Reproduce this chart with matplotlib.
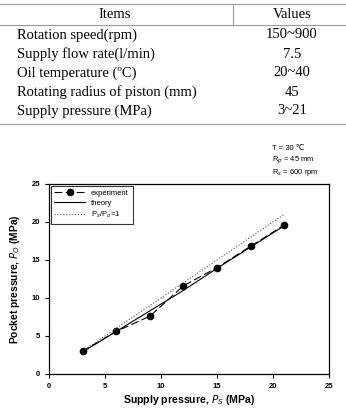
import matplotlib
matplotlib.use("Agg")
import matplotlib.pyplot as plt

# table data
items = ["Rotation speed(rpm)", "Supply flow rate(l/min)", "Oil temperature (\u00baC)",
         "Rotating radius of piston (mm)", "Supply pressure (MPa)"]
values = ["150~900", "7.5", "20~40", "45", "3~21"]

# chart data
ps = [3, 6, 9, 12, 15, 18, 21]
po_exp = [3.0, 5.6, 7.6, 11.6, 14.0, 16.8, 19.6]
po_theory = [2.9, 5.6, 8.3, 11.0, 13.9, 16.7, 19.5]
ideal_x = [3, 21]
ideal_y = [3, 21]

W, H = 346, 408
fig = plt.figure(figsize=(W / 100, H / 100), dpi=100)

def fx(px):
    return px / W

def fy(py):
    return 1 - py / H

# ---- table ----
serif = "Liberation Serif"
line_c = "#9a9a9a"
for yy in [4, 24.5, 123.5]:
    fig.add_artist(plt.Line2D([0, 1], [fy(yy), fy(yy)], color=line_c, lw=0.8))
fig.add_artist(plt.Line2D([fx(233), fx(233)], [fy(4), fy(24.5)], color=line_c, lw=0.8))
fig.text(fx(115), fy(15), "Items", family=serif, fontsize=10.5, ha="center", va="center")
fig.text(fx(292), fy(15), "Values", family=serif, fontsize=10.5, ha="center", va="center")
row_y = [35, 54, 73, 92.5, 111]
for name, val, yy in zip(items, values, row_y):
    fig.text(fx(17), fy(yy), name, family=serif, fontsize=10.5, ha="left", va="center")
    fig.text(fx(292), fy(yy), val, family=serif, fontsize=10.5, ha="center", va="center")

# ---- chart ----
sans = ["Liberation Sans", "DejaVu Sans"]
ax = fig.add_axes([fx(49), fy(374), fx(329) - fx(49), fy(184) - fy(374)])
ax.plot(ps, po_exp, color="black", lw=0.8, dashes=(7, 3), marker="o", ms=4.5,
        label="experiment")
ax.plot(ps, po_theory, color="black", lw=0.8, label="theory")
ax.plot(ideal_x, ideal_y, color="#555555", lw=0.8, ls=":", label="P$_s$/P$_o$=1")

ax.set_xlim(0, 25)
ax.set_ylim(0, 25)
ax.set_xticks([0, 5, 10, 15, 20, 25])
ax.set_yticks([0, 5, 10, 15, 20, 25])
ax.tick_params(direction="out", length=3, width=0.8, labelsize=5.5, pad=3.5)
for lab in ax.get_xticklabels() + ax.get_yticklabels():
    lab.set_family(sans)
    lab.set_fontweight("bold")
for s in ax.spines.values():
    s.set_linewidth(0.9)

fig.text(fx(189), fy(400), "Supply pressure, $\\mathbf{\\it{P}_S}$ (MPa)", family=sans,
         fontweight="bold", fontsize=7.6, ha="center", va="center")
fig.text(fx(15), fy(279), "Pocket pressure, $\\mathbf{\\it{P}_O}$ (MPa)", family=sans,
         fontweight="bold", fontsize=7.4, ha="center", va="center", rotation=90)

leg = ax.legend(loc="upper left", frameon=True, fancybox=False,
                edgecolor="black", borderaxespad=0.2, handlelength=4.0,
                labelspacing=0.35, borderpad=0.5,
                prop={"family": sans, "size": 5.5})
leg.get_frame().set_linewidth(0.8)

fig.text(fx(272), fy(148), "T = 30 \u2103", family=sans, fontsize=5.5, va="center")
fig.text(fx(272), fy(160), "R$_p$ = 45 mm", family=sans, fontsize=5.5, va="center")
fig.text(fx(272), fy(172), "R$_s$ = 600 rpm", family=sans, fontsize=5.5, va="center")

fig.savefig("out.png", dpi=100)
